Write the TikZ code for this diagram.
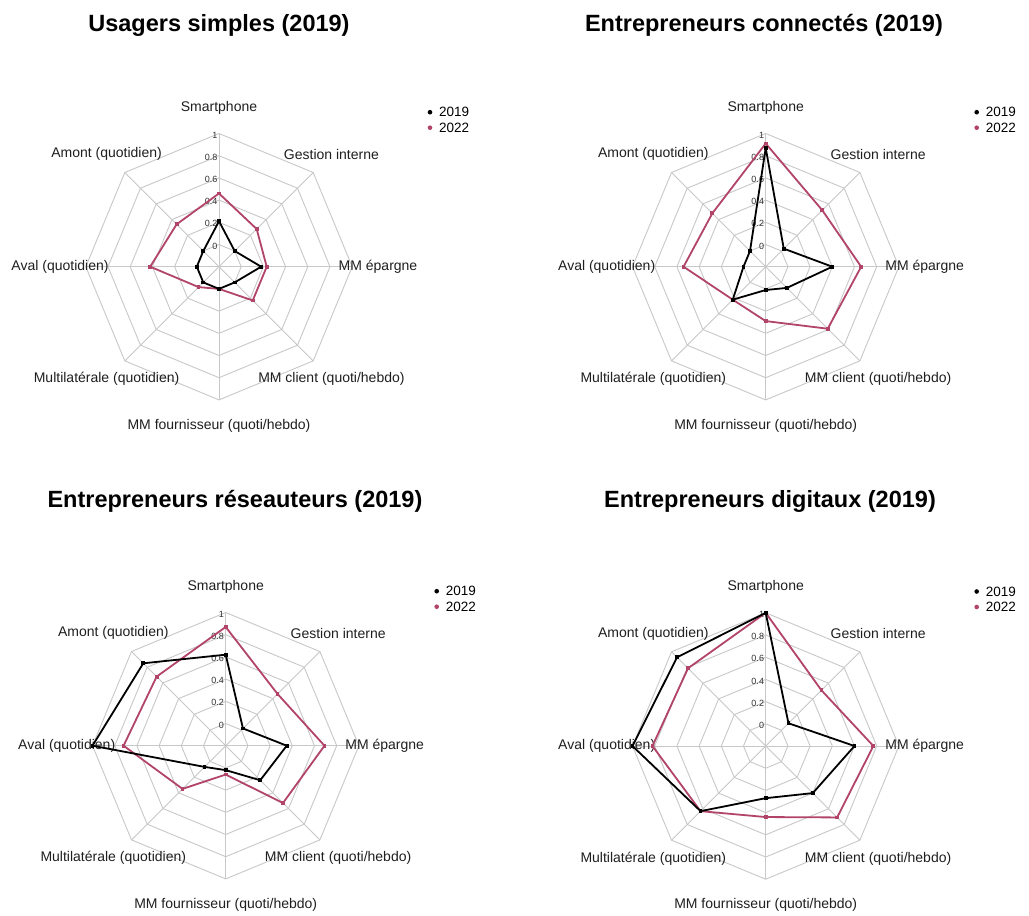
\documentclass[tikz,border=0pt]{standalone}
\usepackage{fontspec}
\setmainfont{Liberation Sans}
\definecolor{c22}{RGB}{178,68,104}
\definecolor{gridc}{RGB}{200,200,200}
\tikzset{
 gridline/.style={draw=gridc, line width=0.9pt},
 axlab/.style={inner sep=0pt, font=\fontsize{14}{16}\selectfont, text=black!88},
 ticklab/.style={inner sep=0pt, font=\fontsize{9}{10}\selectfont, text=black!80, anchor=east},
 legtxt/.style={inner sep=0pt, font=\fontsize{13.5}{15}\selectfont, anchor=west},
 ttl/.style={inner sep=0pt, font=\bfseries\fontsize{23.5}{26}\selectfont, anchor=base},
 ser19/.style={draw=black, line width=1.8pt, line join=round},
 ser22/.style={draw=c22, line width=1.8pt, line join=round},
}
\newcommand{\radarchart}[5]{%
\begin{scope}[shift={(#2,-#3)}]
 \foreach \k in {0,...,5}{
  \pgfmathsetmacro{\rr}{22.2+22.2*\k}
  \draw[gridline] (90:\rr) -- (45:\rr) -- (0:\rr) -- (-45:\rr) -- (-90:\rr) -- (-135:\rr) -- (180:\rr) -- (135:\rr) -- cycle;
 }
 \foreach \j in {0,...,7} \draw[gridline] (0,0) -- ({90-45*\j}:133.2);
 \foreach \t [count=\k from 0] in {0,0.2,0.4,0.6,0.8,1} \node[ticklab] (#1t\k) at (-1.5,{22.2+22.2*\k-1.5}) {\t};
 \foreach \lab [count=\j from 0] in {Smartphone,Gestion interne,MM épargne,MM client (quoti/hebdo),MM fournisseur (quoti/hebdo),Multilatérale (quotidien),Aval (quotidien),Amont (quotidien)} \node[axlab] (#1a\j) at ({90-45*\j}:159) {\lab};
 \foreach \v [count=\j from 0] in {#5} \coordinate (#1r\j) at ({90-45*\j}:{22.2+111*\v});
 \foreach \v [count=\j from 0] in {#4} \coordinate (#1b\j) at ({90-45*\j}:{22.2+111*\v});
 \draw[ser22] (#1r0)--(#1r1)--(#1r2)--(#1r3)--(#1r4)--(#1r5)--(#1r6)--(#1r7)--cycle;
 \foreach \j in {0,...,7} \fill[c22] (#1r\j) ++(-1.9,-1.9) rectangle ++(3.8,3.8);
 \draw[ser19] (#1b0)--(#1b1)--(#1b2)--(#1b3)--(#1b4)--(#1b5)--(#1b6)--(#1b7)--cycle;
 \foreach \j in {0,...,7} \fill[black] (#1b\j) ++(-1.9,-1.9) rectangle ++(3.8,3.8);
 \fill[black] (211,154.5) circle (2.3);
 \fill[c22] (211,139) circle (2.3);
 \node[legtxt] (#1l1) at (220,154.5) {2019};
 \node[legtxt] (#1l2) at (220,139) {2022};
\end{scope}}
\begin{document}
\begin{tikzpicture}[x=1pt,y=1pt]
\useasboundingbox (0,0) rectangle (1029,-916);
\fill[white] (0,0) rectangle (1029,-916);
\node[ttl] (t1) at (219,-31) {Usagers simples (2019)};
\node[ttl] (t2) at (764,-31) {Entrepreneurs connectés (2019)};
\node[ttl] (t3) at (235,-507) {Entrepreneurs réseauteurs (2019)};
\node[ttl] (t4) at (770,-507) {Entrepreneurs digitaux (2019)};
\radarchart{A}{219}{266.7}{0.21,0,0.18,0,0,0,0,0}{0.46,0.28,0.23,0.23,0,0.06,0.42,0.34}
\radarchart{B}{765.7}{266.7}{0.87,0.03,0.40,0.07,0.01,0.22,0,0}{0.91,0.52,0.66,0.59,0.29,0.22,0.54,0.48}
\radarchart{C}{225.7}{745.7}{0.62,0.02,0.35,0.24,0.02,0.07,1.0,0.85}{0.87,0.46,0.69,0.53,0.06,0.35,0.72,0.68}
\radarchart{D}{765.7}{746}{1.0,0.09,0.60,0.40,0.27,0.63,1.0,0.93}{1.0,0.51,0.77,0.71,0.44,0.63,0.82,0.79}
\end{tikzpicture}
\end{document}
